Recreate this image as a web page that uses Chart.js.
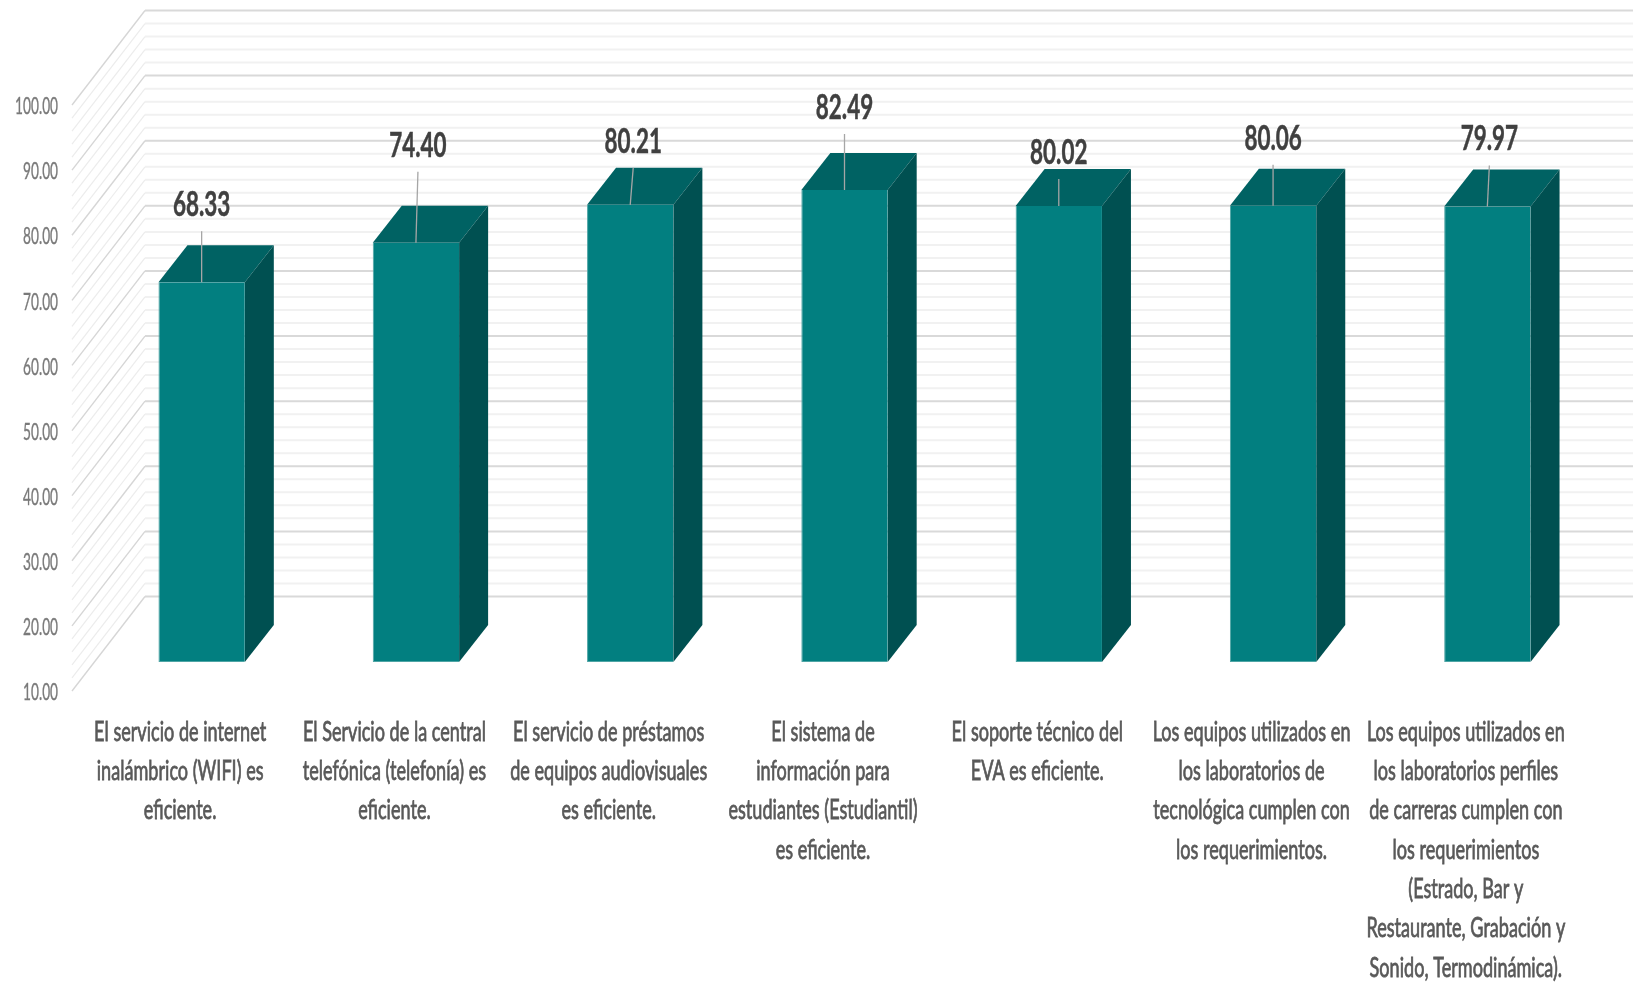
<!DOCTYPE html>
<html>
<head>
<meta charset="utf-8">
<title>Servicios</title>
<script src="https://cdn.jsdelivr.net/npm/chart.js@4/dist/chart.umd.min.js"></script>
<style>
html, body { margin: 0; background: #fff; }
canvas { display: block; }
</style>
</head>
<body>
<canvas id="chart" width="1633" height="983"></canvas>
<script>
const categories = [
	['El servicio de internet', 'inalámbrico (WIFI) es', 'eficiente.'],
	['El Servicio de la central', 'telefónica (telefonía) es', 'eficiente.'],
	['El servicio de préstamos', 'de equipos audiovisuales', 'es eficiente.'],
	['El sistema de', 'información para', 'estudiantes (Estudiantil)', 'es eficiente.'],
	['El soporte técnico del', 'EVA es eficiente.'],
	['Los equipos utilizados en', 'los laboratorios de', 'tecnológica cumplen con', 'los requerimientos.'],
	['Los equipos utilizados en', 'los laboratorios perfiles', 'de carreras cumplen con', 'los requerimientos', '(Estrado, Bar y', 'Restaurante, Grabación y', 'Sonido, Termodinámica).']
];
const values = [68.33, 74.40, 80.21, 82.49, 80.02, 80.06, 79.97];
const axisMin = 10;
const axisMax = 100;
const majorStep = 10;
const minorStep = 2;

// how far each value label sits above its bar, and the lean of its leader line
const leaderLift = [51, 71, 37, 56, 27, 41, 41];
const leaderLean = [0, 2, 3, 0, 0, 0, 2];

// depth of the box and of the bars, in pixels from the front face of a bar
const wall = { backX: 145, frontX: 72, backDy: -65.5, frontDy: 29 };
const depth = { dx: 29, dy: -37 };

// text is narrow and tall, so it goes through a horizontal squeeze; the thin
// stroke thickens the regular weight
function narrowText(ctx, text, x, y, font, color, squeeze, align, thicken) {
	ctx.save();
	ctx.translate(x, y);
	ctx.scale(squeeze, 1);
	ctx.font = font;
	ctx.fillStyle = color;
	ctx.textAlign = align;
	ctx.textBaseline = 'middle';
	ctx.fillText(text, 0, 0);
	if (thicken) {
		ctx.strokeStyle = color;
		ctx.lineWidth = thicken;
		ctx.strokeText(text, 0, 0);
	}
	ctx.restore();
}

function polygon(ctx, pts, color) {
	ctx.beginPath();
	pts.forEach(function (p, i) {
		if (i) ctx.lineTo(p[0], p[1]);
		else ctx.moveTo(p[0], p[1]);
	});
	ctx.closePath();
	ctx.fillStyle = color;
	ctx.fill();
}

function gridLine(ctx, py, sideColor, backColor, sideWidth, backWidth) {
	ctx.beginPath();
	ctx.moveTo(wall.frontX, py + wall.frontDy);
	ctx.lineTo(wall.backX, py + wall.backDy);
	ctx.strokeStyle = sideColor;
	ctx.lineWidth = sideWidth;
	ctx.stroke();
	ctx.beginPath();
	ctx.moveTo(wall.backX, py + wall.backDy);
	ctx.lineTo(1633, py + wall.backDy);
	ctx.strokeStyle = backColor;
	ctx.lineWidth = backWidth;
	ctx.stroke();
}

const box3d = {
	id: 'box3d',
	beforeDatasetsDraw: function (chart) {
		const ctx = chart.ctx;
		const y = chart.scales.y;

		// walls: side wall diagonals and back wall lines, minor first
		for (let v = axisMin; v <= axisMax; v += minorStep) {
			if ((v - axisMin) % majorStep === 0) continue;
			gridLine(ctx, y.getPixelForValue(v), '#ececec', '#f1f1f1', 1.2, 2);
		}
		for (let v = axisMin; v <= axisMax; v += majorStep) {
			gridLine(ctx, y.getPixelForValue(v), '#d6d6d6', '#d9d9d9', 1.4, 2);
		}

		// top and side of every bar
		chart.getDatasetMeta(0).data.forEach(function (bar) {
			const l = bar.x - bar.width / 2;
			const r = bar.x + bar.width / 2;
			polygon(ctx, [[l, bar.y], [l + depth.dx, bar.y + depth.dy], [r + depth.dx, bar.y + depth.dy], [r, bar.y]], '#006263');
			polygon(ctx, [[r, bar.y], [r + depth.dx, bar.y + depth.dy], [r + depth.dx, bar.base + depth.dy], [r, bar.base]], '#005051');
		});
	},
	afterDatasetsDraw: function (chart) {
		const ctx = chart.ctx;
		const x = chart.scales.x;
		const y = chart.scales.y;

		// value labels with leader lines
		chart.getDatasetMeta(0).data.forEach(function (bar, i) {
			const topY = bar.y - leaderLift[i];
			const topX = bar.x + leaderLean[i];
			ctx.beginPath();
			ctx.moveTo(bar.x, bar.y);
			ctx.lineTo(topX, topY);
			ctx.strokeStyle = '#a6a6a6';
			ctx.lineWidth = 1.3;
			ctx.stroke();
			narrowText(ctx, values[i].toFixed(2), topX, topY - 26, 'bold 34px Lato', '#404040', 0.66, 'center', 0.5);
		});

		// value axis, on the front edge of the side wall
		y.ticks.forEach(function (t) {
			narrowText(ctx, t.value.toFixed(2), 58, y.getPixelForValue(t.value) + wall.frontDy + 1.5, '24px Lato', '#7a7a7a', 0.57, 'right', 0.4);
		});

		// category labels, shifted left of the bars as on the floor of the box
		categories.forEach(function (lines, i) {
			lines.forEach(function (line, k) {
				narrowText(ctx, line, x.getPixelForTick(i) - 21.5, 732 + k * 39.3, '27px Lato', '#595959', 0.67, 'center', 0.8);
			});
		});
	}
};

new Chart(document.getElementById('chart'), {
	type: 'bar',
	data: {
		labels: categories,
		datasets: [{
			data: values,
			base: axisMin,
			backgroundColor: '#027f80',
			borderColor: '#4fa5a5',
			borderWidth: { left: 1, bottom: 1 },
			borderSkipped: false,
			barPercentage: 0.403,
			categoryPercentage: 1
		}]
	},
	plugins: [box3d],
	options: {
		responsive: false,
		animation: false,
		layout: { padding: { top: 76, right: 38.5, left: 0, bottom: 0 } },
		plugins: { legend: { display: false }, tooltip: { enabled: false } },
		scales: {
			x: {
				grid: { display: false },
				border: { display: false },
				ticks: { display: false, autoSkip: false },
				afterFit: function (scale) { scale.height = 321; }
			},
			y: {
				min: axisMin,
				max: axisMax,
				grid: { display: false },
				border: { display: false },
				ticks: { display: false, stepSize: majorStep },
				afterFit: function (scale) { scale.width = 94.5; }
			}
		}
	}
});
</script>
</body>
</html>
